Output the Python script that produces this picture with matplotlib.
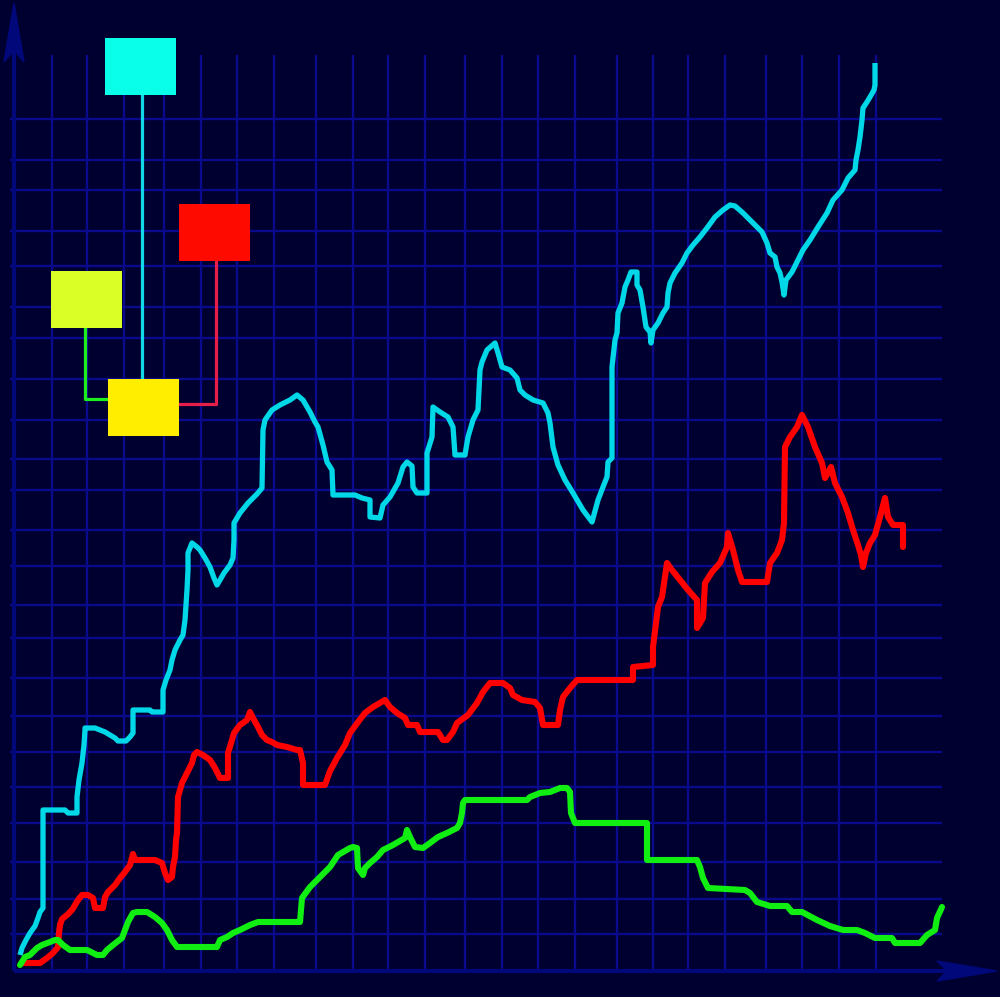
import matplotlib
matplotlib.use("Agg")
import matplotlib.pyplot as plt
from matplotlib.patches import Polygon, Rectangle

# ---------------- data (time step, value) ----------------
cyan_t = [6, 8, 12, 16, 21, 24, 26, 29, 29, 51, 54, 63, 63, 65, 68, 70, 71, 71, 81, 86, 91, 96, 101, 104, 112, 116, 119, 119,
          136, 138, 149, 149, 152, 156, 158, 161, 166, 169, 171, 172, 173, 174, 174, 178, 183, 186, 191, 196, 200, 203, 206,
          210, 216, 219, 220, 220, 226, 234, 243, 248, 249, 251, 258, 266, 276, 283, 289, 296, 301, 304, 309, 313, 318, 319,
          341, 348, 356, 356, 366, 369, 376, 384, 389, 393, 398, 399, 403, 413, 413, 418, 419, 426, 434, 439, 441, 451, 454,
          459, 464, 466, 468, 473, 481, 484, 488, 496, 503, 506, 511, 519, 529, 534, 536, 539, 544, 551, 559, 569, 578, 584,
          589, 593, 594, 598, 598, 601, 603, 604, 608, 611, 614, 617, 623, 623, 626, 629, 632, 636, 637, 639, 644, 649, 653,
          654, 656, 661, 668, 673, 679, 686, 693, 701, 709, 716, 721, 729, 739, 748, 753, 756, 761, 763, 766, 768, 770, 772,
          778, 783, 789, 796, 804, 813, 819, 828, 834, 841, 842, 844, 846, 848, 849, 853, 856, 860, 861, 861]
cyan_v = [16, 23, 31, 38, 45, 53, 59, 63, 161, 161, 158, 158, 174, 191, 208, 226, 241, 243, 243, 241, 239, 236, 233, 230, 230,
          234, 238, 261, 261, 259, 259, 281, 291, 301, 311, 321, 331, 336, 351, 366, 381, 401, 418, 428, 424, 421, 413, 404,
          393, 386, 391, 398, 406, 413, 431, 448, 458, 468, 477, 483, 541, 551, 561, 566, 571, 576, 571, 559, 549, 544, 526,
          509, 501, 476, 476, 473, 471, 454, 453, 466, 474, 488, 504, 509, 505, 484, 478, 478, 518, 534, 564, 559, 554, 544,
          516, 516, 534, 551, 561, 601, 609, 621, 628, 618, 604, 601, 593, 581, 576, 571, 568, 558, 548, 524, 506, 491, 478,
          461, 449, 471, 484, 494, 509, 513, 604, 631, 638, 658, 668, 684, 691, 699, 699, 686, 681, 664, 644, 639, 628, 641,
          648, 658, 664, 678, 688, 698, 708, 718, 726, 734, 743, 754, 761, 766, 765, 758, 748, 739, 728, 718, 714, 704, 698,
          689, 676, 691, 699, 709, 721, 731, 744, 758, 771, 781, 793, 801, 811, 821, 834, 851, 863, 869, 874, 881, 886, 908]

red_t = [9, 26, 33, 39, 44, 45, 46, 48, 53, 58, 64, 68, 74, 79, 81, 89, 91, 94, 101, 106, 111, 116, 119, 121, 141, 148, 151,
         154, 158, 159, 161, 162, 163, 164, 164, 168, 173, 178, 180, 183, 189, 196, 201, 206, 214, 214, 218, 220, 226, 233,
         236, 239, 244, 248, 253, 258, 263, 273, 283, 286, 289, 289, 311, 316, 323, 331, 336, 344, 351, 359, 371, 376, 383,
         391, 394, 403, 406, 424, 429, 433, 439, 443, 454, 463, 469, 476, 489, 496, 499, 508, 521, 526, 529, 544, 546, 549,
         556, 563, 619, 619, 639, 639, 644, 648, 653, 658, 666, 674, 683, 683, 689, 691, 698, 706, 713, 714, 719, 724, 728,
         753, 756, 763, 768, 770, 771, 776, 783, 788, 794, 801, 808, 811, 817, 821, 828, 834, 839, 844, 847, 849, 852, 856,
         861, 866, 871, 874, 879, 889, 889]
red_v = [8, 8, 13, 18, 24, 38, 46, 52, 56, 61, 71, 76, 76, 73, 63, 63, 74, 79, 86, 93, 99, 106, 117, 111, 111, 108, 98, 91,
         94, 104, 114, 131, 138, 171, 174, 188, 198, 208, 216, 219, 216, 211, 203, 193, 193, 218, 231, 238, 246, 251, 259, 253,
         244, 236, 231, 229, 226, 224, 221, 221, 208, 186, 186, 200, 213, 226, 238, 249, 258, 264, 271, 264, 258, 253, 246,
         246, 239, 239, 231, 231, 239, 248, 256, 268, 279, 288, 288, 283, 276, 271, 269, 263, 246, 246, 261, 274, 283, 291,
         291, 304, 306, 324, 364, 374, 408, 401, 391, 381, 371, 343, 353, 388, 399, 408, 424, 438, 421, 401, 389, 389, 408,
         418, 431, 448, 524, 534, 544, 556, 544, 524, 508, 493, 504, 488, 474, 458, 441, 426, 416, 404, 418, 428, 436, 454,
         473, 454, 446, 446, 424]

green_t = [6, 11, 16, 23, 28, 36, 41, 44, 49, 56, 73, 83, 89, 93, 99, 108, 111, 114, 119, 123, 133, 141, 148, 153, 158, 163,
           203, 206, 213, 219, 226, 236, 244, 286, 288, 296, 306, 316, 324, 336, 339, 343, 344, 349, 351, 356, 363, 369, 379,
           391, 393, 396, 401, 409, 416, 424, 433, 443, 446, 448, 449, 451, 513, 516, 526, 536, 546, 553, 556, 557, 561, 633,
           633, 683, 686, 689, 694, 731, 736, 743, 756, 773, 778, 788, 803, 816, 829, 843, 851, 861, 878, 881, 906, 913, 921,
           923, 928]
green_v = [6, 14, 16, 23, 26, 29, 31, 31, 26, 21, 21, 16, 16, 21, 26, 33, 41, 49, 58, 59, 59, 54, 48, 41, 31, 24, 24, 31, 34,
           38, 41, 46, 49, 49, 73, 84, 94, 104, 116, 123, 124, 123, 103, 96, 103, 108, 114, 121, 126, 133, 141, 134, 124, 123,
           128, 134, 138, 143, 148, 158, 168, 171, 171, 174, 178, 179, 183, 183, 179, 158, 148, 148, 111, 111, 104, 93, 83, 81,
           78, 69, 65, 65, 59, 59, 51, 45, 41, 41, 38, 33, 33, 28, 28, 36, 41, 53, 64]

# grid positions in data units
grid_t = [38, 73, 110, 150, 187, 223, 260, 302, 339, 374, 411, 451, 488, 524, 561, 603, 639, 674, 711, 752, 788, 825, 862]
grid_v = [852, 811, 781, 740, 705, 664, 633, 592, 551, 512, 481, 441, 405, 366, 333, 293, 255, 219, 184, 148, 109, 72, 37]

# ---------------- styles ----------------
BG = "#000030"
GRID = "#0a0a8c"
AXIS = "#00087a"

fig = plt.figure(figsize=(10, 9.97), dpi=100, facecolor=BG)
ax = fig.add_axes([0, 0, 1, 1])
ax.set_facecolor(BG)
ax.set_xlim(-14, 986)
ax.set_ylim(-26, 971)
ax.axis("off")

# grid
for gt in grid_t:
    ax.plot([gt, gt], [0, 916], color=GRID, lw=1.7, zorder=1, solid_capstyle="butt")
for gv in grid_v:
    ax.plot([-4, 928], [gv, gv], color=GRID, lw=1.7, zorder=1, solid_capstyle="butt")

# axes lines + arrows
ax.plot([0, 0], [0, 925], color=AXIS, lw=3.0, zorder=2, solid_capstyle="butt")
ax.plot([0, 935], [0, 0], color=AXIS, lw=3.0, zorder=2, solid_capstyle="butt")
ax.add_patch(Polygon([(0, 968), (-10, 909), (0, 921), (10, 909)], closed=True, color=AXIS, zorder=2))
ax.add_patch(Polygon([(983, 0), (923, 10), (933, 0), (923, -10)], closed=True, color=AXIS, zorder=2))

# data lines
ax.plot(cyan_t, cyan_v, color="#00d8e8", lw=3.8, zorder=5, solid_joinstyle="round", solid_capstyle="butt")
ax.plot(red_t, red_v, color="#ff0000", lw=4.4, zorder=5, solid_joinstyle="round", solid_capstyle="round")
ax.plot(green_t, green_v, color="#11ee11", lw=4.4, zorder=5, solid_joinstyle="round", solid_capstyle="round")

# legend-like tree of boxes
ax.plot([128, 128], [876, 592], color="#10d8e8", lw=2.3, zorder=6)
ax.plot([202, 202, 164], [710, 567, 567], color="#e81e4a", lw=2.3, zorder=6)
ax.plot([71, 71, 94], [643, 572, 572], color="#1eee1e", lw=2.3, zorder=6)

boxes = [((91, 876), "#0affea"), ((165, 710), "#ff0a00"), ((37, 643), "#d9ff26"), ((94, 535), "#ffee00")]
for (bx, by), col in boxes:
    ax.add_patch(Rectangle((bx, by), 71, 57, facecolor=col, edgecolor="none", zorder=7))

fig.savefig("out.png", dpi=100, facecolor=BG)
